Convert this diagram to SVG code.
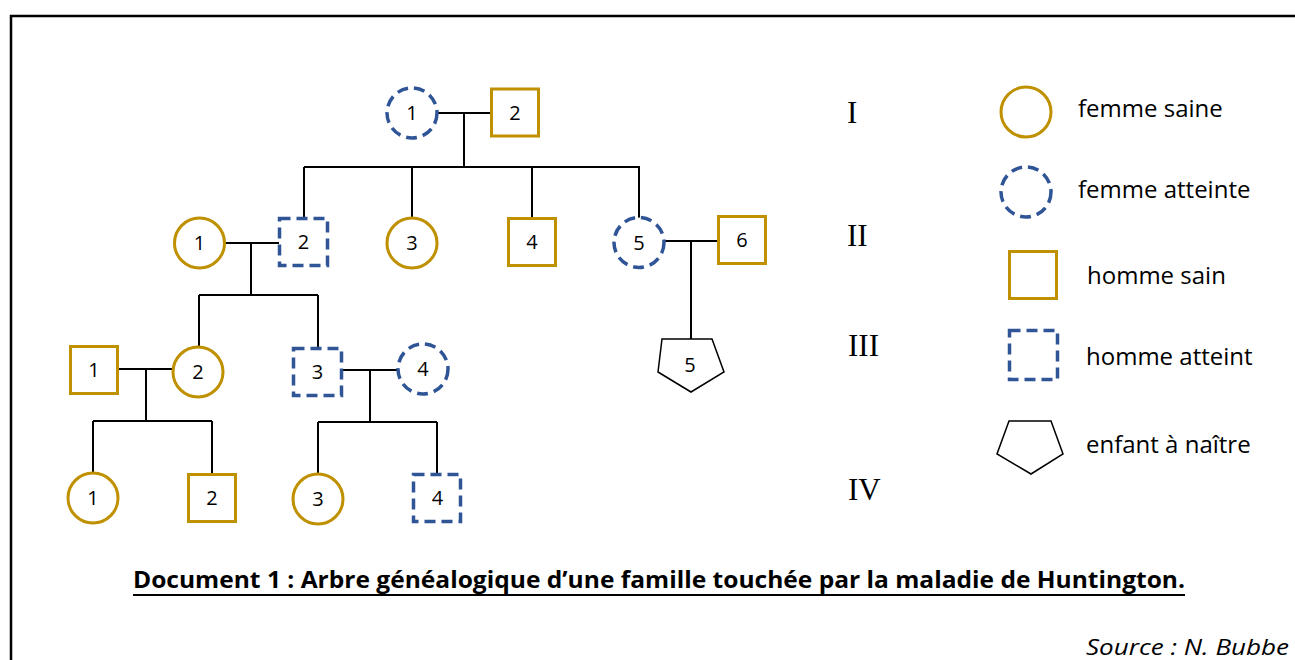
<svg xmlns="http://www.w3.org/2000/svg" width="1295" height="660" viewBox="0 0 1295 660">
  <style>
    .sain { fill: #ffffff; stroke: #BF9000; stroke-width: 3; }
    .atteint { fill: #ffffff; stroke: #2F5597; stroke-width: 3.5; stroke-dasharray: 11 6; }
    .naitre { fill: #ffffff; stroke: #000000; stroke-width: 1.5; }
    .num { font-family: "Open Sans", "Liberation Sans", sans-serif; font-size: 20px; fill: #000000; text-anchor: middle; }
    .gen { font-family: "Liberation Serif", serif; font-size: 31px; fill: #000000; }
    .leg { font-family: "Open Sans", "Liberation Sans", sans-serif; font-size: 24px; fill: #000000; }
    .link { fill: none; stroke: #000000; stroke-width: 2; }
  </style>

  <!-- frame -->
  <path d="M11,662 V16 H1297" fill="none" stroke="#000000" stroke-width="2.5"/>

  <!-- family links -->
  <g id="connectors" class="link">
    <!-- generation I couple and sibship -->
    <path d="M437,113 H491 M464,113 V167 M304,167 H640 M304,167 V218 M412,167 V218 M532,167 V218 M639,167 V218"/>
    <!-- II-1 x II-2 -->
    <path d="M225,243 H279 M251,243 V295 M199,295 H318 M199,295 V347 M318,295 V348"/>
    <!-- II-5 x II-6 -->
    <path d="M664,241 H718 M691,241 V339"/>
    <!-- III-1 x III-2 -->
    <path d="M118,369 H173 M146,369 V421 M93,421 H212 M93,421 V473 M212,421 V474"/>
    <!-- III-3 x III-4 -->
    <path d="M342,370 H398 M370,370 V422 M318,422 H437 M318,422 V474 M437,422 V474"/>
  </g>

  <!-- generation I -->
  <g id="I-1"><circle class="atteint" cx="412" cy="113" r="25"/><text class="num" x="412" y="120">1</text></g>
  <g id="I-2"><rect class="sain" x="491.5" y="89" width="47" height="47"/><text class="num" x="515" y="120">2</text></g>

  <!-- generation II -->
  <g id="II-1"><circle class="sain" cx="199.5" cy="243" r="25"/><text class="num" x="199.5" y="250">1</text></g>
  <g id="II-2"><rect class="atteint" x="279.5" y="218.5" width="48" height="47"/><text class="num" x="303.5" y="249">2</text></g>
  <g id="II-3"><circle class="sain" cx="412" cy="243" r="25"/><text class="num" x="412" y="250">3</text></g>
  <g id="II-4"><rect class="sain" x="508.5" y="218.5" width="47" height="47"/><text class="num" x="532" y="249">4</text></g>
  <g id="II-5"><circle class="atteint" cx="639" cy="242.5" r="25"/><text class="num" x="639" y="249.5">5</text></g>
  <g id="II-6"><rect class="sain" x="718.5" y="216.5" width="47" height="47"/><text class="num" x="742" y="247">6</text></g>

  <!-- generation III -->
  <g id="III-1"><rect class="sain" x="70.5" y="346.5" width="47" height="47"/><text class="num" x="94" y="377">1</text></g>
  <g id="III-2"><circle class="sain" cx="198" cy="372" r="25"/><text class="num" x="198" y="379">2</text></g>
  <g id="III-3"><rect class="atteint" x="293.5" y="348.5" width="48" height="47"/><text class="num" x="317.5" y="379">3</text></g>
  <g id="III-4"><circle class="atteint" cx="423" cy="369" r="25"/><text class="num" x="423" y="376">4</text></g>
  <g id="III-5"><polygon class="naitre" points="662,339 712,339 724,372 691,392 658,372"/><text class="num" x="690" y="372">5</text></g>

  <!-- generation IV -->
  <g id="IV-1"><circle class="sain" cx="93" cy="498" r="25"/><text class="num" x="93" y="505">1</text></g>
  <g id="IV-2"><rect class="sain" x="188.5" y="474.5" width="47" height="47"/><text class="num" x="212" y="505">2</text></g>
  <g id="IV-3"><circle class="sain" cx="318" cy="499" r="25"/><text class="num" x="318" y="506">3</text></g>
  <g id="IV-4"><rect class="atteint" x="413.5" y="474.5" width="47" height="47"/><text class="num" x="437.5" y="505">4</text></g>

  <!-- generation numerals -->
  <g id="generations">
    <text class="gen" x="847" y="123">I</text>
    <text class="gen" x="847" y="246">II</text>
    <text class="gen" x="848" y="356">III</text>
    <text class="gen" x="848" y="500">IV</text>
  </g>

  <!-- key -->
  <g id="legend">
    <g id="legend-femme-saine"><circle class="sain" cx="1026" cy="112" r="25"/><text class="leg" x="1078" y="117">femme saine</text></g>
    <g id="legend-femme-atteinte"><circle class="atteint" cx="1026" cy="192" r="25"/><text class="leg" x="1078" y="198">femme atteinte</text></g>
    <g id="legend-homme-sain"><rect class="sain" x="1009.5" y="251.5" width="47" height="47"/><text class="leg" x="1087" y="284">homme sain</text></g>
    <g id="legend-homme-atteint"><rect class="atteint" x="1009.5" y="330.5" width="48" height="49"/><text class="leg" x="1086" y="365">homme atteint</text></g>
    <g id="legend-enfant"><polygon class="naitre" points="1009,421 1051,421 1063,454 1031,474 997,454"/><text class="leg" x="1086" y="453">enfant à naître</text></g>
  </g>

  <!-- caption -->
  <g id="caption">
    <text x="133" y="588" font-family="'Open Sans', 'Liberation Sans', sans-serif" font-weight="bold" font-size="23" textLength="1052" lengthAdjust="spacingAndGlyphs">Document 1 : Arbre généalogique d’une famille touchée par la maladie de Huntington.</text>
    <line x1="133" y1="595" x2="1185" y2="595" stroke="#000000" stroke-width="2"/>
    <text x="1086" y="655" font-family="'Open Sans', 'Liberation Sans', sans-serif" font-style="italic" font-size="22" textLength="203" lengthAdjust="spacingAndGlyphs">Source : N. Bubbe</text>
  </g>
</svg>
